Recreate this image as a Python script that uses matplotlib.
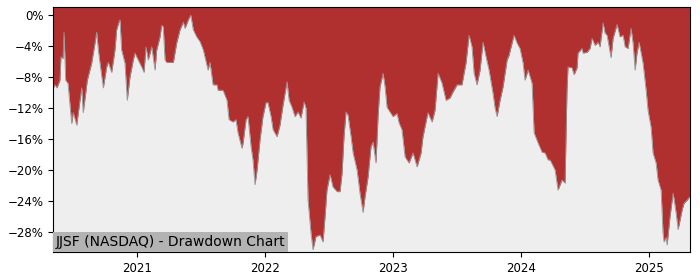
import matplotlib
matplotlib.use("Agg")
import matplotlib.pyplot as plt
from matplotlib.ticker import FuncFormatter

ticker = "JJSF (NASDAQ)"

# time in decimal years, drawdown in percent
years = [
    2020.346, 2020.359, 2020.375, 2020.398, 2020.406, 2020.422, 2020.430, 2020.443, 2020.461, 2020.490,
    2020.502, 2020.529, 2020.555, 2020.568, 2020.580, 2020.612, 2020.646, 2020.672, 2020.685, 2020.698,
    2020.711, 2020.737, 2020.763, 2020.776, 2020.802, 2020.828, 2020.841, 2020.859, 2020.867, 2020.880,
    2020.906, 2020.924, 2020.945, 2020.971, 2020.984, 2021.010, 2021.037, 2021.055, 2021.070, 2021.088,
    2021.115, 2021.141, 2021.154, 2021.180, 2021.193, 2021.205, 2021.219, 2021.232, 2021.284, 2021.310,
    2021.336, 2021.362, 2021.375, 2021.401, 2021.420, 2021.440, 2021.466, 2021.492, 2021.518, 2021.555,
    2021.570, 2021.586, 2021.594, 2021.625, 2021.633, 2021.672, 2021.703, 2021.719, 2021.750, 2021.773,
    2021.789, 2021.820, 2021.828, 2021.852, 2021.867, 2021.891, 2021.906, 2021.922, 2021.938, 2021.961,
    2021.984, 2022.008, 2022.023, 2022.047, 2022.063, 2022.094, 2022.117, 2022.141, 2022.172, 2022.188,
    2022.211, 2022.234, 2022.258, 2022.281, 2022.305, 2022.320, 2022.336, 2022.359, 2022.375, 2022.398,
    2022.430, 2022.453, 2022.469, 2022.484, 2022.508, 2022.531, 2022.563, 2022.586, 2022.602, 2022.617,
    2022.633, 2022.648, 2022.672, 2022.688, 2022.719, 2022.742, 2022.766, 2022.781, 2022.805, 2022.828,
    2022.844, 2022.867, 2022.883, 2022.898, 2022.922, 2022.938, 2022.953, 2022.977, 2023.000, 2023.031,
    2023.047, 2023.070, 2023.094, 2023.125, 2023.156, 2023.188, 2023.219, 2023.234, 2023.266, 2023.273,
    2023.305, 2023.328, 2023.352, 2023.383, 2023.414, 2023.445, 2023.469, 2023.500, 2023.539, 2023.555,
    2023.570, 2023.594, 2023.617, 2023.633, 2023.656, 2023.680, 2023.703, 2023.727, 2023.750, 2023.781,
    2023.797, 2023.813, 2023.836, 2023.859, 2023.891, 2023.906, 2023.930, 2023.945, 2023.969, 2023.992,
    2024.016, 2024.031, 2024.055, 2024.086, 2024.102, 2024.133, 2024.164, 2024.188, 2024.211, 2024.227,
    2024.266, 2024.289, 2024.320, 2024.344, 2024.359, 2024.367, 2024.398, 2024.414, 2024.438, 2024.445,
    2024.477, 2024.484, 2024.516, 2024.539, 2024.555, 2024.578, 2024.602, 2024.617, 2024.641, 2024.656,
    2024.672, 2024.703, 2024.719, 2024.750, 2024.773, 2024.797, 2024.813, 2024.836, 2024.859, 2024.875,
    2024.891, 2024.906, 2024.922, 2024.938, 2024.953, 2024.977, 2024.992, 2025.016, 2025.031, 2025.055,
    2025.070, 2025.094, 2025.109, 2025.117, 2025.133, 2025.141, 2025.164, 2025.188, 2025.211, 2025.227,
    2025.258, 2025.273, 2025.297, 2025.316,
]
drawdown = [
    -9.4, -9.0, -9.4, -8.4, -5.4, -5.6, -2.2, -8.4, -8.8, -14.0,
    -12.6, -14.2, -11.0, -9.4, -12.6, -8.4, -6.2, -3.6, -2.2, -4.5,
    -6.2, -9.4, -6.7, -6.1, -7.4, -4.5, -1.9, -0.9, -0.6, -4.5,
    -6.2, -11.0, -8.0, -5.8, -4.9, -5.8, -6.7, -7.4, -4.1, -5.8,
    -4.1, -7.1, -4.5, -2.8, -1.3, -1.5, -5.8, -6.1, -6.1, -3.6,
    -1.9, -0.9, -1.7, -0.6, 0.0, -1.9, -2.8, -3.4, -4.5, -7.1,
    -6.1, -8.0, -9.0, -9.0, -9.7, -9.7, -11.0, -13.5, -13.8, -13.5,
    -15.2, -17.2, -16.6, -13.5, -13.1, -17.0, -18.7, -21.9, -20.0, -16.1,
    -13.1, -11.3, -11.3, -13.1, -14.8, -15.7, -14.2, -11.6, -8.6, -11.0,
    -11.9, -13.1, -12.5, -13.3, -11.2, -12.0, -23.9, -28.1, -30.3, -28.6,
    -28.4, -29.3, -26.0, -22.6, -20.6, -22.2, -22.8, -22.8, -20.4, -15.7,
    -12.5, -12.9, -15.7, -17.8, -20.0, -23.0, -25.5, -23.5, -20.9, -17.0,
    -16.4, -19.1, -13.1, -9.3, -7.5, -9.3, -11.9, -12.5, -13.1, -12.7,
    -13.9, -14.8, -18.3, -19.1, -17.8, -19.6, -17.8, -15.7, -13.1, -12.6,
    -13.8, -12.3, -7.5, -8.8, -11.0, -10.7, -9.9, -9.0, -9.0, -7.5,
    -6.2, -2.6, -4.1, -7.5, -9.0, -7.1, -3.5, -5.4, -7.1, -10.1,
    -12.0, -13.1, -11.0, -9.3, -5.8, -5.2, -3.6, -2.6, -3.6, -4.3,
    -6.2, -8.4, -7.1, -8.8, -15.2, -16.5, -17.7, -17.8, -18.7, -18.7,
    -20.0, -22.6, -21.3, -21.7, -9.7, -6.7, -6.8, -7.7, -6.8, -4.9,
    -4.3, -4.9, -4.8, -4.3, -3.0, -3.9, -3.5, -4.1, -1.0, -2.3,
    -2.6, -5.5, -3.0, -1.2, -2.8, -2.6, -4.1, -4.3, -1.7, -3.6,
    -7.1, -4.9, -3.5, -4.9, -6.2, -9.7, -12.3, -14.5, -17.8, -19.1,
    -21.3, -22.6, -28.1, -29.3, -28.7, -29.7, -26.0, -23.0, -25.5, -27.7,
    -25.2, -24.3, -23.9, -23.5,
]
year_ticks = [2021, 2022, 2023, 2024, 2025]
pct_ticks = [0, -4, -8, -12, -16, -20, -24, -28]

fig = plt.figure(figsize=(7, 2.8), dpi=100)
ax = fig.add_axes([0.0757, 0.1, 0.91, 0.875])
ax.set_facecolor("#eeeeee")

top = 1.05
ax.fill_between(years, drawdown, top, color="#b03030", linewidth=0)
ax.plot(years, drawdown, color="#959595", linewidth=0.6)

ax.set_xlim(2020.344, 2025.320)
ax.set_ylim(-30.6, top)
ax.set_xticks(year_ticks)
ax.set_xticklabels([str(y) for y in year_ticks])
ax.set_yticks(pct_ticks)
ax.yaxis.set_major_formatter(FuncFormatter(lambda v, p: f"{v:.0f}%".replace("-", "\u2212") if v != 0 else "0%"))
ax.tick_params(labelsize=8.5)

ax.text(0.004, 0.012, ticker + " - Drawdown Chart", transform=ax.transAxes,
        ha="left", va="bottom", fontsize=10,
        bbox=dict(boxstyle="square,pad=0.2", facecolor="#b3b3b3", edgecolor="none"))

fig.savefig("out.png", dpi=100)
